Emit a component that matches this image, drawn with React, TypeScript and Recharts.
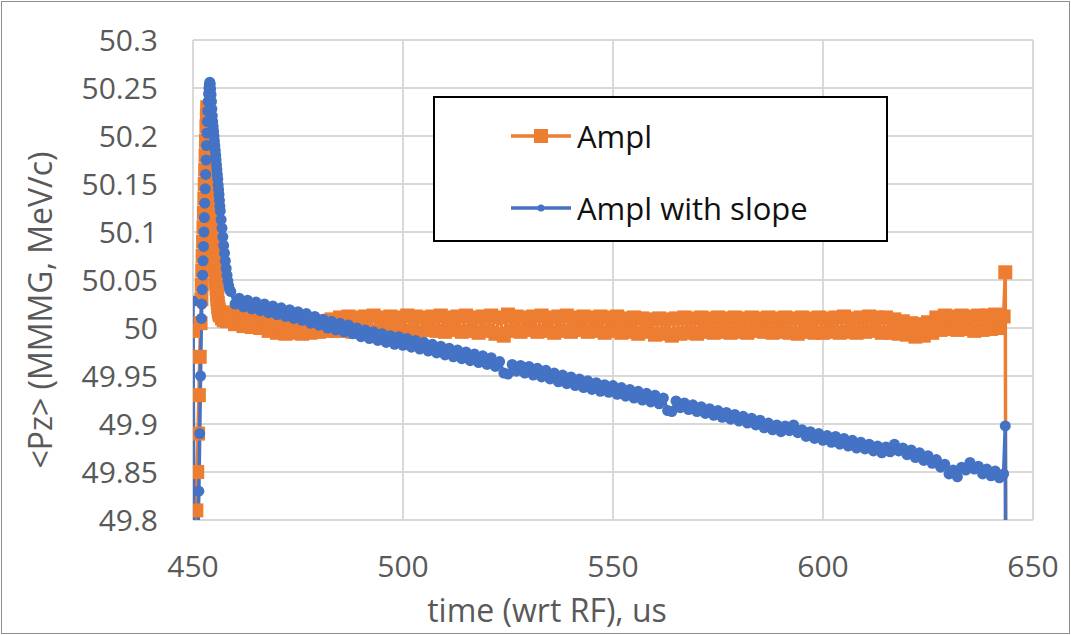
import React from 'react';
import { LineChart, Line, XAxis, YAxis, CartesianGrid, Legend } from 'recharts';

const FONT = "'Open Sans', sans-serif";

const seriesNames = ['Ampl', 'Ampl with slope'];
const seriesColors = ['#ED7D31', '#4472C4'];
const xTicks = [450, 500, 550, 600, 650];
const yTicks = [49.8, 49.85, 49.9, 49.95, 50, 50.05, 50.1, 50.15, 50.2, 50.25, 50.3];
const xTitle = 'time (wrt RF), us';
const yTitle = '<Pz> (MMMG, MeV/c)';

// time stamps (us)
const times = [
  450, 450.4, 450.8, 451, 451.2, 451.4, 451.6, 451.8,
  452, 452.1, 452.2, 452.3, 452.4, 452.5, 452.6, 452.7, 452.8, 452.9,
  453, 453.1, 453.2, 453.3, 453.4, 453.5, 453.6, 453.7, 453.8, 453.9,
  454, 454.1, 454.2, 454.3, 454.4, 454.5, 454.6, 454.7, 454.8, 454.9,
  455, 455.1, 455.2, 455.3, 455.4, 455.5, 455.6, 455.7, 455.8, 455.9,
  456, 456.1, 456.2, 456.3, 456.4, 456.5,
  456.7, 456.9, 457.1, 457.3, 457.5, 457.7, 457.9, 458.1, 458.3, 458.5, 458.7,
  459, 460, 461, 462, 463, 464, 465, 466, 467, 468,
  469, 470, 471, 472, 473, 474, 475, 476, 477, 478,
  479, 480, 481, 482, 483, 484, 485, 486, 487, 488,
  489, 490, 491, 492, 493, 494, 495, 496, 497, 498,
  499, 500, 501, 502, 503, 504, 505, 506, 507, 508,
  509, 510, 511, 512, 513, 514, 515, 516, 517, 518,
  519, 520, 521, 522, 523, 524, 525, 526, 527, 528,
  529, 530, 531, 532, 533, 534, 535, 536, 537, 538,
  539, 540, 541, 542, 543, 544, 545, 546, 547, 548,
  549, 550, 551, 552, 553, 554, 555, 556, 557, 558,
  559, 560, 561, 562, 563, 564, 565, 566, 567, 568,
  569, 570, 571, 572, 573, 574, 575, 576, 577, 578,
  579, 580, 581, 582, 583, 584, 585, 586, 587, 588,
  589, 590, 591, 592, 593, 594, 595, 596, 597, 598,
  599, 600, 601, 602, 603, 604, 605, 606, 607, 608,
  609, 610, 611, 612, 613, 614, 615, 616, 617, 618,
  619, 620, 621, 622, 623, 624, 625, 626, 627, 628,
  629, 630, 631, 632, 633, 634, 635, 636, 637, 638,
  639, 640, 641, 642, 643,
  643.4, 643.6,
];

// "Ampl" series
const amplValues = [
  49.997, 49.6, 49.81, 49.85, 49.89, 49.93, 49.97, 50.005,
  50.03, 50.045, 50.06, 50.075, 50.09, 50.105, 50.12, 50.135, 50.15, 50.165,
  50.18, 50.195, 50.21, 50.222, 50.23, 50.228, 50.22, 50.212, 50.203, 50.193,
  50.183, 50.172, 50.162, 50.155, 50.15, 50.142, 50.133, 50.123, 50.112, 50.101,
  50.09, 50.08, 50.071, 50.062, 50.054, 50.047, 50.041, 50.035, 50.03, 50.026,
  50.022, 50.019, 50.017, 50.015, 50.014, 50.013,
  50.016, 50.010, 50.015, 50.008, 50.016, 50.009, 50.014, 50.007, 50.015, 50.008, 50.014,
  50.016, 50.004, 50.013, 50.002, 50.012, 50.001, 50.010, 50.000, 50.008, 49.997,
  50.006, 49.995, 50.005, 49.994, 50.004, 49.995, 50.005, 49.994, 50.004, 49.995,
  50.005, 49.996, 50.007, 49.997, 50.009, 49.997, 50.011, 49.997, 50.012, 49.996,
  50.011, 49.996, 50.012, 49.997, 50.013, 49.996, 50.011, 49.997, 50.012, 49.998,
  50.011, 49.996, 50.013, 49.997, 50.012, 49.995, 50.011, 49.998, 50.012, 49.997,
  50.013, 49.996, 50.011, 49.998, 50.012, 49.996, 50.013, 49.997, 50.011, 49.995,
  50.012, 49.997, 50.013, 49.994, 50.011, 49.992, 50.014, 49.997, 50.012, 49.996,
  50.011, 49.998, 50.012, 49.996, 50.013, 49.997, 50.011, 49.995, 50.012, 49.997,
  50.013, 49.996, 50.011, 49.998, 50.012, 49.996, 50.011, 49.997, 50.012, 49.995,
  50.011, 49.997, 50.012, 49.995, 50.010, 49.996, 50.011, 49.994, 50.010, 49.996,
  50.009, 49.993, 50.010, 49.994, 50.009, 49.992, 50.010, 49.994, 50.011, 49.995,
  50.010, 49.994, 50.011, 49.996, 50.010, 49.995, 50.011, 49.996, 50.010, 49.995,
  50.011, 49.996, 50.010, 49.995, 50.011, 49.997, 50.010, 49.996, 50.011, 49.995,
  50.010, 49.996, 50.011, 49.995, 50.010, 49.994, 50.011, 49.996, 50.010, 49.995,
  50.011, 49.995, 50.010, 49.996, 50.011, 49.995, 50.012, 49.996, 50.010, 49.995,
  50.011, 49.996, 50.012, 49.997, 50.011, 49.995, 50.011, 49.995, 50.009, 49.994,
  50.007, 49.993, 50.005, 49.991, 50.004, 49.992, 50.006, 49.995, 50.011, 49.998,
  50.013, 49.999, 50.012, 49.998, 50.013, 49.999, 50.012, 49.997, 50.013, 49.998,
  50.013, 49.999, 50.014, 50.000, 50.012,
  50.058, 49.5,
];

// "Ampl with slope" series
const slopeValues = [
  50.028, 49.5, 49.7, 49.76, 49.79, 49.83, 49.89, 49.95,
  50.01, 50.025, 50.04, 50.055, 50.07, 50.085, 50.1, 50.115, 50.13, 50.145,
  50.16, 50.175, 50.19, 50.203, 50.215, 50.226, 50.236, 50.244, 50.25, 50.254,
  50.256, 50.254, 50.249, 50.243, 50.236, 50.228, 50.221, 50.215, 50.21, 50.205,
  50.2, 50.195, 50.19, 50.185, 50.18, 50.175, 50.17, 50.165, 50.16, 50.155,
  50.149, 50.144, 50.139, 50.133, 50.127, 50.122,
  50.113, 50.104, 50.095, 50.086, 50.078, 50.07, 50.062, 50.055, 50.049, 50.044, 50.04,
  50.038, 50.025, 50.031, 50.022, 50.029, 50.020, 50.027, 50.018, 50.025, 50.016,
  50.023, 50.014, 50.021, 50.012, 50.019, 50.010, 50.017, 50.008, 50.015, 50.005,
  50.012, 50.003, 50.009, 50.000, 50.007, 49.998, 50.005, 49.996, 50.003, 49.994,
  50.000, 49.991, 49.998, 49.989, 49.996, 49.987, 49.994, 49.985, 49.992, 49.983,
  49.991, 49.982, 49.989, 49.980, 49.987, 49.978, 49.985, 49.976, 49.983, 49.974,
  49.981, 49.972, 49.979, 49.970, 49.977, 49.968, 49.975, 49.966, 49.973, 49.964,
  49.971, 49.962, 49.969, 49.960, 49.965, 49.953, 49.952, 49.962, 49.955, 49.961,
  49.953, 49.960, 49.951, 49.958, 49.949, 49.956, 49.947, 49.953, 49.944, 49.951,
  49.942, 49.949, 49.940, 49.947, 49.938, 49.945, 49.936, 49.943, 49.934, 49.941,
  49.933, 49.940, 49.931, 49.938, 49.929, 49.936, 49.927, 49.934, 49.925, 49.932,
  49.923, 49.930, 49.921, 49.927, 49.914, 49.913, 49.924, 49.917, 49.922, 49.915,
  49.920, 49.913, 49.918, 49.911, 49.916, 49.909, 49.914, 49.907, 49.912, 49.905,
  49.910, 49.903, 49.908, 49.901, 49.906, 49.899, 49.904, 49.896, 49.901, 49.894,
  49.899, 49.892, 49.898, 49.893, 49.899, 49.891, 49.894, 49.887, 49.892, 49.885,
  49.890, 49.883, 49.888, 49.881, 49.887, 49.879, 49.885, 49.877, 49.883, 49.875,
  49.881, 49.874, 49.879, 49.872, 49.877, 49.870, 49.876, 49.871, 49.879, 49.872,
  49.875, 49.868, 49.873, 49.865, 49.870, 49.862, 49.867, 49.859, 49.863, 49.855,
  49.858, 49.848, 49.852, 49.845, 49.855, 49.852, 49.860, 49.853, 49.856, 49.848,
  49.853, 49.846, 49.851, 49.844, 49.848,
  49.898, 49.5,
];

const data = times.map((t, i) => ({ t, ampl: amplValues[i], slope: slopeValues[i] }));

const SquareDot = (props: any) => {
  const { cx, cy, index } = props;
  if (cx == null || cy == null) return <g key={`sq-${index}`} />;
  return <rect key={`sq-${index}`} x={cx - 7} y={cy - 7} width={14} height={14} fill={seriesColors[0]} />;
};

const renderLegend = () => (
  <div
    style={{
      width: 455,
      height: 146,
      boxSizing: 'border-box',
      border: '2px solid #000',
      background: '#fff',
      position: 'relative',
      fontFamily: FONT,
    }}
  >
    {seriesNames.map((name, i) => {
      const cy = i === 0 ? 38 : 110;
      return (
        <React.Fragment key={name}>
          <svg width={62} height={20} style={{ position: 'absolute', left: 75, top: cy - 10 }}>
            <line x1={1} y1={10} x2={61} y2={10} stroke={seriesColors[i]} strokeWidth={3.5} />
            {i === 0 ? (
              <rect x={24} y={3} width={14} height={14} fill={seriesColors[0]} />
            ) : (
              <circle cx={31} cy={10} r={3.5} fill={seriesColors[1]} />
            )}
          </svg>
          <div
            style={{
              position: 'absolute',
              left: 142,
              top: cy - 22,
              height: 44,
              lineHeight: '44px',
              fontSize: 31,
              color: '#111',
              whiteSpace: 'nowrap',
            }}
          >
            {name}
          </div>
        </React.Fragment>
      );
    })}
  </div>
);

const XTitle = (props: any) => {
  const vb = props.viewBox || { x: 193, y: 520, width: 840, height: 110 };
  return (
    <text
      x={vb.x + vb.width / 2 - 66}
      y={vb.y + 102}
      textAnchor="middle"
      fill="#595959"
      fontSize={32}
      fontFamily={FONT}
    >
      {xTitle}
    </text>
  );
};

const YTitle = (props: any) => {
  const vb = props.viewBox || { x: 0, y: 40, width: 193, height: 480 };
  const cx = vb.x + 39;
  const cy = vb.y + vb.height / 2 + 30;
  return (
    <text
      x={cx}
      y={cy}
      transform={`rotate(-90 ${cx} ${cy})`}
      textAnchor="middle"
      dominantBaseline="central"
      fill="#595959"
      fontSize={32}
      fontFamily={FONT}
    >
      {yTitle}
    </text>
  );
};

export default function App() {
  return (
    <div style={{ position: 'absolute', left: 0, top: 0, width: 1071, height: 635, background: '#fff' }}>
      <div
        style={{
          position: 'absolute',
          left: 1,
          top: 1,
          width: 1067,
          height: 631,
          border: '1px solid #8f8f8f',
          pointerEvents: 'none',
        }}
      />
      <LineChart
        width={1071}
        height={635}
        data={data}
        margin={{ top: 40, right: 38, bottom: 5, left: 0 }}
        style={{ position: 'absolute', left: 0, top: 0 }}
      >
        <CartesianGrid stroke="#d9d9d9" strokeWidth={2} />
        <XAxis
          dataKey="t"
          type="number"
          domain={[450, 650]}
          ticks={xTicks}
          interval={0}
          allowDataOverflow
          axisLine={false}
          tickLine={false}
          height={110}
          tickMargin={30}
          tick={{ fill: '#595959', fontSize: 30, fontFamily: FONT }}
          label={XTitle}
        />
        <YAxis
          type="number"
          domain={[49.8, 50.3]}
          ticks={yTicks}
          interval={0}
          allowDataOverflow
          axisLine={false}
          tickLine={false}
          width={193}
          tickMargin={29}
          tick={{ fill: '#595959', fontSize: 30, fontFamily: FONT }}
          label={YTitle}
        />
        <Legend
          layout="vertical"
          align="center"
          verticalAlign="middle"
          content={renderLegend}
          wrapperStyle={{ position: 'absolute', left: 433, top: 96, width: 455, height: 146 }}
        />
        <Line
          type="linear"
          dataKey="ampl"
          name={seriesNames[0]}
          stroke={seriesColors[0]}
          strokeWidth={3.5}
          dot={SquareDot}
          activeDot={false}
          isAnimationActive={false}
        />
        <Line
          type="linear"
          dataKey="slope"
          name={seriesNames[1]}
          stroke={seriesColors[1]}
          strokeWidth={3.5}
          dot={{ r: 5.5, fill: seriesColors[1], stroke: 'none', strokeWidth: 0 }}
          activeDot={false}
          isAnimationActive={false}
        />
      </LineChart>
    </div>
  );
}
